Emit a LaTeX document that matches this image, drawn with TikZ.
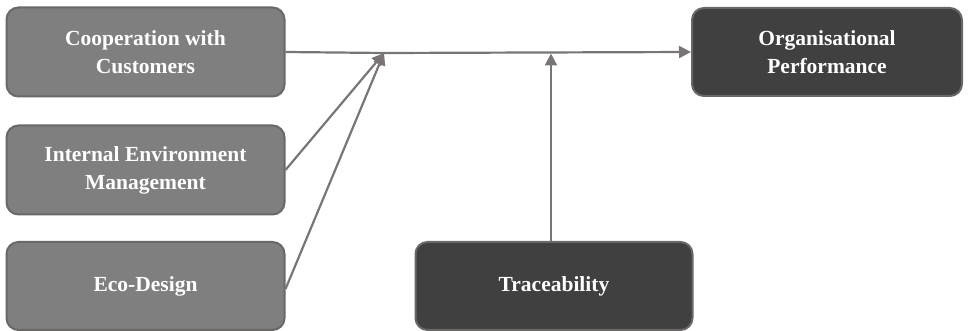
\documentclass[tikz,border=0pt]{standalone}
\usepackage{fontspec}
\setmainfont{Liberation Serif}
\usetikzlibrary{arrows.meta}
\definecolor{boxgray}{HTML}{7F7F7F}
\definecolor{boxedge}{HTML}{6A6767}
\definecolor{darkfill}{HTML}{404040}
\definecolor{linegray}{HTML}{7A7575}
\begin{document}
\begin{tikzpicture}[x=1pt,y=-1pt,
  lightbox/.style={draw=boxedge,line width=2pt,fill=boxgray,rounded corners=12pt,
    text=white,font=\fontsize{21.5}{28}\selectfont\bfseries,align=center,inner sep=0pt},
  darkbox/.style={lightbox,fill=darkfill},
  conn/.style={draw=linegray,line width=2.2pt},
  arr/.style={conn,-{Triangle[length=12pt,width=12pt]}}]
\useasboundingbox (0,0) rectangle (970,331);
\node[lightbox,minimum width=278pt,minimum height=89pt] (coop) at (145.5,52) {Cooperation with\\Customers};
\node[lightbox,minimum width=278pt,minimum height=89pt] (iem) at (145.5,170) {Internal Environment\\Management};
\node[lightbox,minimum width=278pt,minimum height=88pt] (eco) at (145.5,286) {Eco-Design};
\node[darkbox,minimum width=270pt,minimum height=88pt] (org) at (827,52) {Organisational\\Performance};
\node[darkbox,minimum width=277pt,minimum height=88pt] (tra) at (554,286) {Traceability};
\coordinate (c) at (384,53);
\coordinate (t) at (551,53.5);
\draw[conn] (coop.east) -- (c);
\draw[arr] (iem.east) -- (c);
\draw[arr] ([yshift=-3]eco.east) -- (c);
\draw[arr] (c) -- (org.west);
\draw[arr] (tra.north -| t) -- (t);
\end{tikzpicture}
\end{document}
